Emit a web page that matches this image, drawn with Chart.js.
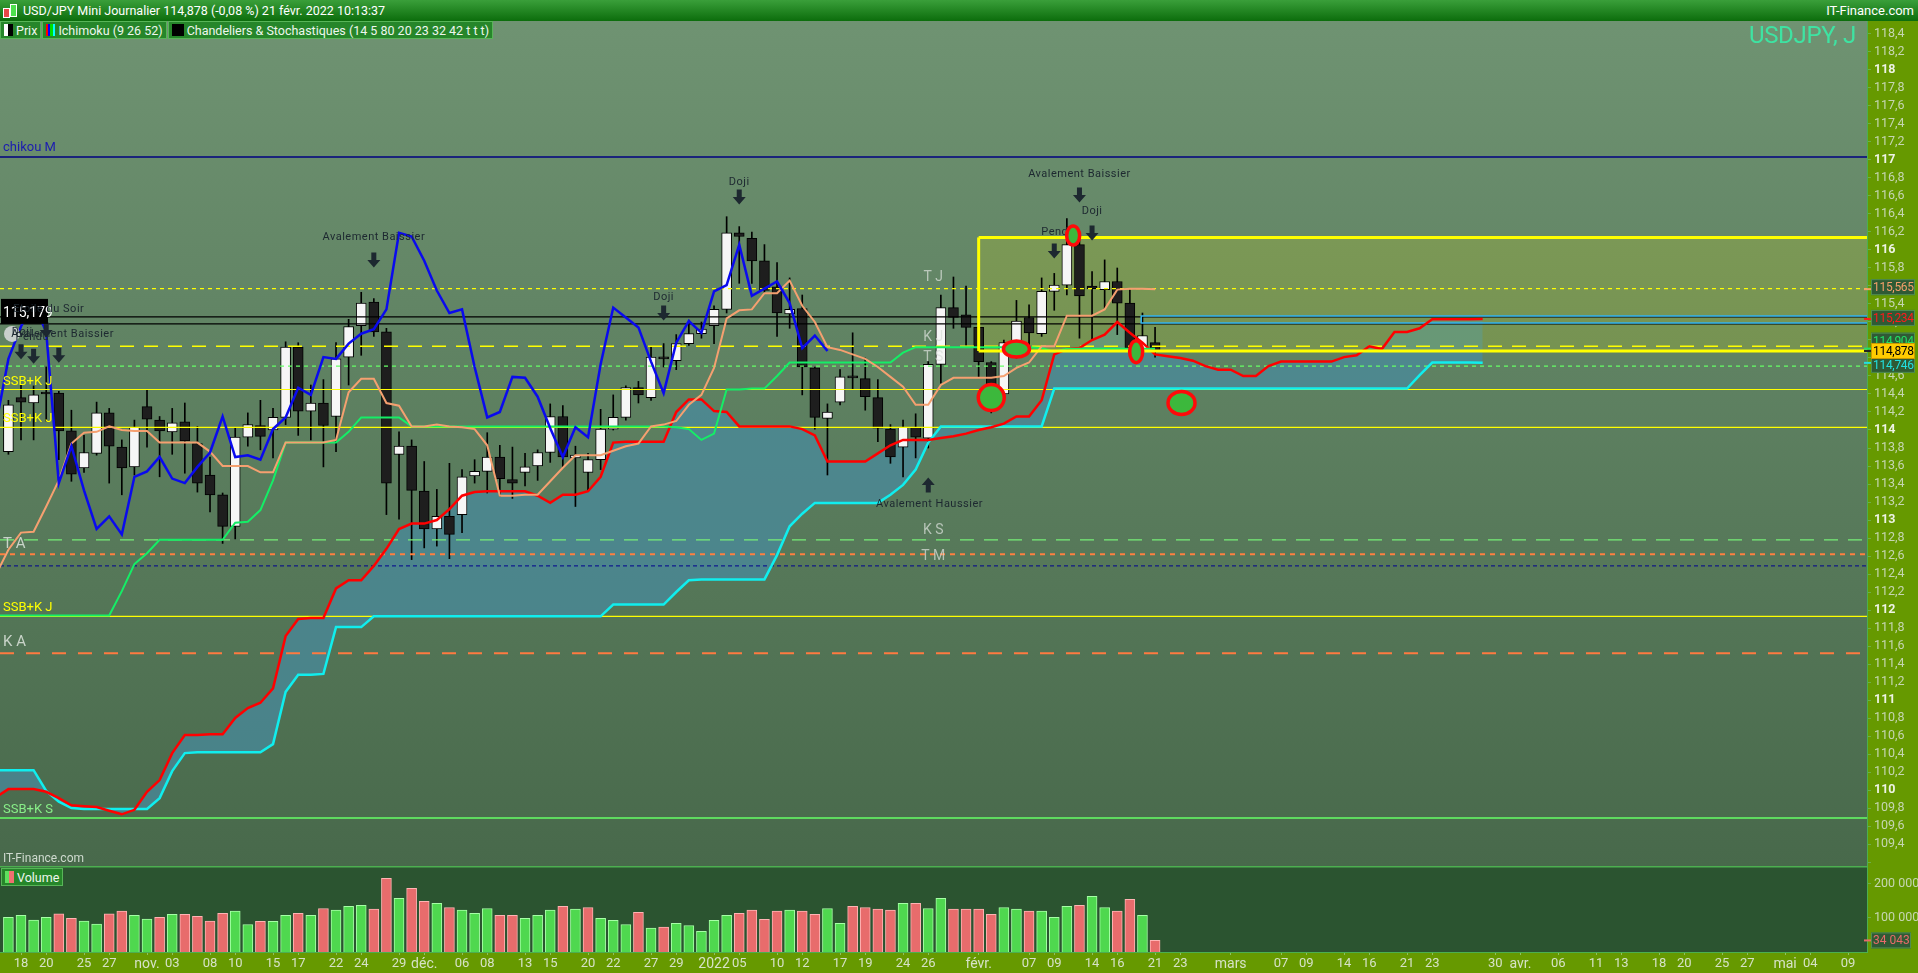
<!DOCTYPE html>
<html lang="fr">
<head>
<meta charset="UTF-8">
<title>USD/JPY Mini Journalier</title>
<script src="https://cdn.jsdelivr.net/npm/chart.js"></script>
<style>
    body {
        margin: 0;
        width: 1918px;
        height: 973px;
        overflow: hidden;
        position: relative;
        background: #669900;
        font-family: Roboto, 'Noto Sans', sans-serif;
    }

    /* title bar */
    .titlebar {
        position: absolute; left: 0; top: 0; width: 1918px; height: 21px;
        background: linear-gradient(#3a9f3a, #0c6d0c);
        color: #fff; font-size: 12.5px; line-height: 21px; z-index: 5;
    }
    .titlebar .txt { position: absolute; left: 23px; top: 0; }
    .titlebar .site { position: absolute; right: 4px; top: 0; font-size: 13px; }
    .ico-r { position: absolute; left: 3px; top: 8px; width: 5px; height: 8px; background: #e84848; border: 1px solid #fff; }
    .ico-g { position: absolute; left: 10px; top: 4px; width: 5px; height: 11px; background: #4ee04e; border: 1px solid #fff; }

    /* legend row */
    .legend { position: absolute; left: 0; top: 21px; height: 18px; display: flex; z-index: 5; }
    .legend span {
        display: flex; align-items: center; gap: 3px;
        background: #26862a; border: 1px solid #58b558; color: #eef6ee;
        font-size: 12.5px; padding: 0 3px; height: 16px; margin-right: 1px;
    }
    .sw { display: inline-block; width: 9px; height: 12px; }

    .usdjpy { position: absolute; right: 62px; top: 21px; font-size: 24px; color: #3ee3a2; z-index: 5; letter-spacing: -0.3px; }
    .watermark { position: absolute; left: 3px; top: 851px; font-size: 12px; color: #cfdacf; z-index: 5; }
    .vlegend {
        position: absolute; left: 1px; top: 868px; height: 16px; z-index: 5;
        display: flex; align-items: center; gap: 3px;
        background: #26862a; border: 1px solid #58b558; color: #eef6ee; font-size: 12.5px; padding: 0 3px;
    }

    #priceBox { position: absolute; left: 0; top: 21px; width: 1918px; height: 845px; }
    #volBox { position: absolute; left: 0; top: 866px; width: 1918px; height: 107px; }
</style>
</head>
<body>

<div class="titlebar">
    <div class="ico-r"></div><div class="ico-g"></div>
    <div class="txt">USD/JPY Mini Journalier 114,878 (-0,08 %) 21 févr. 2022 10:13:37</div>
    <div class="site">IT-Finance.com</div>
</div>
<div class="legend">
    <span><i class="sw" style="background:linear-gradient(90deg,#fff 50%,#000 50%)"></i>Prix</span>
    <span><i class="sw" style="background:linear-gradient(90deg,#f00 0 25%,#00f 25% 50%,#0d0 50% 75%,#0ff 75%)"></i>Ichimoku (9 26 52)</span>
    <span><i class="sw" style="background:#000;width:12px"></i>Chandeliers &amp; Stochastiques (14 5 80 20 23 32 42 t t t)</span>
</div>
<div class="usdjpy">USDJPY, J</div>

<div id="priceBox"><canvas id="price"></canvas></div>
<div id="volBox"><canvas id="vol"></canvas></div>
<div class="watermark">IT-Finance.com</div>
<div class="vlegend"><i class="sw" style="background:linear-gradient(90deg,#5ee05e 50%,#f07070 50%)"></i>Volume</div>

<script>
    // ---- data (day index: 0 = lundi 18 oct. 2021, weekdays only) ----
    const firstDay = -1;   // first candle = 15 oct.

    const opens = [
        113.76, 114.36, 114.30, 114.41, 114.41, 113.99, 113.58, 113.74, 114.19, 113.81,
        113.59, 114.26, 114.11, 113.98, 114.09, 113.85, 113.50, 113.28, 112.93, 113.92,
        114.05, 114.00, 114.14, 114.92, 114.21, 114.30, 114.15, 114.81, 115.16, 115.42,
        115.09, 113.73, 113.82, 113.32, 112.90, 113.04, 113.06, 113.49, 113.54, 113.70,
        113.45, 113.53, 113.60, 113.75, 114.15, 113.69, 113.53, 113.67, 114.01, 114.14,
        114.47, 114.36, 114.80, 114.77, 114.96, 115.07, 115.16, 115.34, 116.19, 116.13,
        115.88, 115.59, 115.29, 115.35, 114.69, 114.13, 114.31, 114.59, 114.57, 114.36,
        114.01, 113.81, 114.03, 113.91, 114.73, 115.36, 115.28, 115.14, 114.75, 114.40,
        114.87, 115.25, 115.07, 115.54, 115.61, 116.06, 115.60, 115.56, 115.65, 115.41,
        114.90, 114.97
    ];
    const highs = [
        114.33, 114.50, 114.49, 114.70, 114.43, 114.22, 113.94, 114.31, 114.24, 113.89,
        114.11, 114.44, 114.15, 114.24, 114.30, 114.04, 113.70, 113.30, 114.03, 114.19,
        114.33, 114.24, 114.98, 114.97, 114.50, 114.56, 114.97, 115.23, 115.53, 115.46,
        115.13, 113.98, 113.89, 113.65, 113.34, 113.63, 113.56, 113.67, 113.97, 113.83,
        113.81, 113.74, 113.78, 114.29, 114.27, 113.82, 113.74, 114.23, 114.39, 114.49,
        114.54, 114.93, 114.96, 115.06, 115.22, 115.20, 115.38, 116.37, 116.26, 116.20,
        116.06, 115.86, 115.69, 115.50, 114.70, 114.29, 114.67, 115.08, 114.80, 114.56,
        114.06, 114.11, 114.18, 114.76, 115.50, 115.70, 115.60, 115.15, 114.76, 115.00,
        115.44, 115.39, 115.69, 115.74, 116.35, 116.11, 115.76, 115.89, 115.80, 115.56,
        115.30, 115.14
    ];
    const lows = [
        113.73, 113.89, 113.89, 114.10, 113.67, 113.43, 113.53, 113.72, 113.41, 113.28,
        113.50, 113.81, 113.48, 113.73, 113.52, 113.31, 113.09, 112.74, 112.79, 113.82,
        113.78, 113.69, 114.06, 113.94, 113.89, 113.59, 113.76, 114.50, 114.83, 115.04,
        113.06, 113.01, 112.56, 112.69, 112.71, 112.57, 112.86, 113.41, 113.30, 113.26,
        113.24, 113.38, 113.44, 113.64, 113.59, 113.15, 113.33, 113.56, 114.00, 114.11,
        114.30, 114.33, 114.70, 114.67, 114.94, 115.02, 114.96, 115.30, 115.63, 115.63,
        115.53, 115.04, 115.13, 114.39, 114.01, 113.50, 114.28, 114.46, 114.22, 113.87,
        113.63, 113.48, 113.69, 113.80, 114.52, 115.13, 114.94, 114.59, 114.19, 114.36,
        114.80, 114.90, 115.04, 115.33, 115.50, 115.02, 115.00, 115.35, 115.06, 114.89,
        114.89, 114.81
    ];
    const closes = [
        114.28, 114.31, 114.39, 114.40, 113.99, 113.51, 113.75, 114.19, 113.82, 113.58,
        114.03, 114.12, 113.99, 114.08, 113.88, 113.41, 113.28, 112.93, 113.92, 114.06,
        113.93, 114.14, 114.92, 114.21, 114.30, 114.05, 114.79, 115.15, 115.41, 115.09,
        113.41, 113.82, 113.33, 112.90, 113.04, 112.84, 113.48, 113.54, 113.70, 113.46,
        113.41, 113.59, 113.75, 114.15, 113.70, 113.72, 113.67, 114.01, 114.14, 114.47,
        114.39, 114.81, 114.79, 114.96, 115.07, 115.12, 115.34, 116.19, 116.15, 115.88,
        115.55, 115.30, 115.34, 114.70, 114.14, 114.20, 114.59, 114.58, 114.37, 114.02,
        113.70, 114.03, 113.92, 114.73, 115.36, 115.25, 115.14, 114.76, 114.41, 114.97,
        115.21, 115.08, 115.54, 115.61, 116.06, 115.49, 115.57, 115.65, 115.41, 114.91,
        115.05, 114.878
    ];
    const volumes = [
        102000, 108000, 94000, 102000, 112000, 99000, 91000, 82000, 112000, 120000,
        108000, 97000, 102000, 111000, 111000, 105000, 91000, 114000, 120000, 81000,
        90000, 90000, 108000, 114000, 108000, 128000, 123000, 134000, 137000, 126000,
        217000, 158000, 187000, 149000, 143000, 131000, 123000, 114000, 128000, 108000,
        108000, 99000, 108000, 123000, 134000, 126000, 131000, 99000, 93000, 81000,
        117000, 70000, 73000, 84000, 78000, 61000, 93000, 108000, 114000, 123000,
        96000, 120000, 123000, 120000, 111000, 128000, 84000, 134000, 131000, 126000,
        123000, 143000, 143000, 128000, 158000, 126000, 126000, 126000, 111000, 131000,
        126000, 120000, 120000, 102000, 134000, 137000, 164000, 131000, 120000, 155000,
        108000, 34043
    ];

    // Ichimoku lines, first value at day -2
    const lineStart = -2;
    const tenkan = [
        112.39, 112.67, 112.86, 112.87, 113.15, 113.44, 113.85, 113.97, 113.98, 114.04,
        114.00, 113.99, 113.99, 113.86, 113.86, 113.86, 113.86, 113.76, 113.60, 113.60,
        113.60, 113.53, 113.53, 113.86, 113.86, 113.86, 113.86, 113.89, 114.42, 114.57,
        114.57, 114.30, 114.27, 114.04, 114.04, 114.06, 114.04, 114.03, 114.01, 113.83,
        113.27, 113.27, 113.28, 113.28, 113.43, 113.58, 113.72, 113.72, 113.72, 113.77,
        113.82, 113.85, 114.04, 114.06, 114.10, 114.28, 114.39, 114.69, 115.24, 115.33,
        115.34, 115.52, 115.52, 115.66, 115.38, 115.20, 114.92, 114.89, 114.84, 114.79,
        114.70, 114.59, 114.48, 114.28, 114.28, 114.50, 114.58, 114.58, 114.58, 114.58,
        114.60, 114.69, 114.75, 114.93, 114.93, 115.27, 115.27, 115.27, 115.34, 115.56,
        115.57, 115.57, 115.565
    ];
    const kijun = [
        111.94, 111.94, 111.94, 111.94, 111.94, 111.94, 111.94, 111.94, 111.94, 111.94,
        112.21, 112.51, 112.63, 112.78, 112.78, 112.78, 112.78, 112.78, 112.78, 112.97,
        112.98, 113.11, 113.44, 113.86, 113.86, 113.86, 113.86, 113.86, 113.98, 114.14,
        114.14, 114.14, 114.14, 114.04, 114.04, 114.04, 114.04, 114.04, 114.04, 114.04,
        114.04, 114.04, 114.04, 114.04, 114.04, 114.04, 114.04, 114.04, 114.04, 114.04,
        114.04, 114.04, 114.04, 114.04, 114.03, 114.01, 113.89, 113.96, 114.45, 114.45,
        114.46, 114.46, 114.60, 114.75, 114.75, 114.75, 114.75, 114.75, 114.75, 114.75,
        114.75, 114.75, 114.86, 114.92, 114.92, 114.92, 114.92, 114.92, 114.92, 114.92,
        114.92, 114.92, 114.92, 114.91, 114.87, 114.904, 114.904, 114.904, 114.904, 114.904,
        114.904, 114.904, 114.904
    ];
    // senkou spans, drawn 26 days ahead, first value at day -2
    const ssa = [
        109.92, 110.01, 110.01, 110.01, 109.98, 109.91, 109.83, 109.82, 109.81, 109.77,
        109.73, 109.78, 109.98, 110.11, 110.41, 110.61, 110.61, 110.62, 110.62, 110.80,
        110.91, 110.97, 111.13, 111.71, 111.90, 111.91, 111.91, 112.24, 112.33, 112.33,
        112.49, 112.68, 112.90, 112.96, 112.96, 113.00, 113.12, 113.27, 113.31, 113.32,
        113.32, 113.32, 113.32, 113.27, 113.19, 113.28, 113.28, 113.32, 113.48, 113.86,
        113.87, 113.87, 113.87, 113.87, 114.20, 114.34, 114.34, 114.21, 114.20, 114.04,
        114.04, 114.04, 114.04, 114.04, 114.01, 113.94, 113.65, 113.65, 113.65, 113.65,
        113.74, 113.83, 113.89, 113.89, 113.89, 113.91, 113.93, 113.96, 114.00, 114.03,
        114.07, 114.15, 114.15, 114.33, 114.84, 114.90, 114.91, 115.00, 115.06, 115.20,
        115.08, 114.97, 114.84, 114.82, 114.80, 114.77, 114.71, 114.67, 114.67, 114.60,
        114.60, 114.71, 114.76, 114.76, 114.76, 114.76, 114.76, 114.81, 114.83, 114.93,
        114.90, 115.09, 115.09, 115.13, 115.23, 115.23, 115.23, 115.23, 115.234
    ];
    const ssb = [
        110.22, 110.22, 110.22, 110.22, 109.99, 109.87, 109.80, 109.79, 109.79, 109.79,
        109.79, 109.79, 109.79, 109.91, 110.21, 110.41, 110.42, 110.42, 110.42, 110.42,
        110.42, 110.42, 110.51, 111.09, 111.28, 111.28, 111.29, 111.81, 111.81, 111.81,
        111.93, 111.93, 111.93, 111.93, 111.93, 111.93, 111.93, 111.93, 111.93, 111.93,
        111.93, 111.93, 111.93, 111.93, 111.93, 111.93, 111.93, 111.93, 111.93, 112.06,
        112.06, 112.06, 112.06, 112.06, 112.20, 112.33, 112.34, 112.34, 112.34, 112.34,
        112.34, 112.34, 112.61, 112.93, 113.07, 113.19, 113.19, 113.19, 113.19, 113.19,
        113.19, 113.28, 113.39, 113.56, 113.86, 114.04, 114.04, 114.04, 114.04, 114.04,
        114.04, 114.04, 114.04, 114.04, 114.46, 114.46, 114.46, 114.46, 114.46, 114.46,
        114.46, 114.46, 114.46, 114.46, 114.46, 114.46, 114.46, 114.46, 114.46, 114.46,
        114.46, 114.46, 114.46, 114.46, 114.46, 114.46, 114.46, 114.46, 114.46, 114.46,
        114.46, 114.46, 114.46, 114.61, 114.75, 114.75, 114.75, 114.75, 114.746
    ];

    // horizontal levels drawn on the chart
    const levels = [117.033, 115.57, 115.256, 115.179, 114.93, 114.71, 114.45, 114.03, 112.78, 112.62, 112.49, 111.93, 111.52, 109.69];
    const levelStyles = [
        { c: '#000080', w: 1.5, d: [] },
        { c: '#ffff00', w: 1.2, d: [4, 4] },
        { c: '#000000', w: 1.2, d: [] },
        { c: '#000000', w: 1.2, d: [] },
        { c: '#ffff00', w: 1.6, d: [14, 10] },
        { c: '#66ff66', w: 1.2, d: [4, 4] },
        { c: '#ffff00', w: 1.2, d: [] },
        { c: '#ffff00', w: 1.2, d: [] },
        { c: '#77ee77', w: 1.2, d: [14, 10] },
        { c: '#ff8040', w: 2, d: [5, 5] },
        { c: '#000090', w: 1, d: [4, 3] },
        { c: '#ffff00', w: 1.2, d: [] },
        { c: '#ff7a40', w: 2, d: [14, 12] },
        { c: '#66ff66', w: 1.5, d: [] }
    ];
    const boxStart = 76, boxTop = 116.14, boxBottom = 114.878;
    const bandStart = 88.9, bandTop = 115.266, bandBottom = 115.19;

    // x axis ticks
    const tickDays = [0, 2, 5, 7, 10, 12, 15, 17, 20, 22, 25, 27, 30, 32, 35, 37, 40, 42, 45, 47, 50, 52, 55, 57, 60, 62, 65, 67, 70, 72,
        76, 80, 82, 85, 87, 90, 92, 96, 100, 102, 105, 107, 110, 112, 117, 119, 122, 125, 127, 130, 132, 135, 137, 140, 142, 145];
    const tickText = ['18', '20', '25', '27', 'nov.', '03', '08', '10', '15', '17', '22', '24', '29', 'déc.', '06', '08', '13', '15', '20', '22', '27', '29', '2022', '05', '10', '12', '17', '19', '24', '26',
        'févr.', '07', '09', '14', '16', '21', '23', 'mars', '07', '09', '14', '16', '21', '23', '30', 'avr.', '06', '11', '13', '18', '20', '25', '27', 'mai', '04', '09'];
    const volTicks = [100000, 200000];

    // pattern annotations
    const patText = ['Avalement Baissier', 'Doji', 'Doji', 'Avalement Baissier', 'Doji', 'Pendu', 'Avalement Haussier', 'Etoile du Soir', 'Doji', 'Pendu', 'Avalement Baissier'];
    const patDay = [28, 51, 57, 84, 85, 82.3, 72.1, 2.2, 0.1, 0.9, 3.3];
    const patPrice = [116.14, 115.48, 116.75, 116.84, 116.43, 116.20, 113.17, 115.34, 115.09, 115.03, 115.06];
    const arrowDay = [28, 51, 57, 84, 85, 82, 72, 0, 1, 2, 3];
    const arrowPrice = [115.89, 115.30, 116.59, 116.61, 116.19, 115.99, 113.39, 114.87, 114.82, 115.11, 114.83];
    const arrowUp = [false, false, false, false, false, false, true, false, false, false, false];
    const ellDay = [77, 79, 83.5, 88.5, 92.1];
    const ellPrice = [114.36, 114.90, 116.16, 114.87, 114.30];
    const ellW = [26, 26, 13, 13, 27];
    const ellH = [26, 16, 19, 22, 23];

    const leftText = ['chikou M', 'SSB+K J', 'SSB+K J', 'T A', 'SSB+K J', 'K A', 'SSB+K S'];
    const leftPrice = [117.033, 114.45, 114.03, 112.78, 111.93, 111.52, 109.69];
    const leftShift = [-9, -8, -9, 4, -9, -11, -8];
    const leftColor = ['#1c1cb0', '#ffff00', '#ffff00', '#c9d4c9', '#ffff00', '#c9d4c9', '#88ee88'];
    const midText = ['T J', 'K J', 'T S', 'K S', 'T M'];
    const midDay = 72.4;
    const midPrice = [115.69, 115.03, 114.81, 112.88, 112.59];

    const tagVals = [115.565, 115.234, 114.904, 114.746, 114.878];
    const tagShift = [-2, -1, -8, 2, 0];
    const tagFg = ['#f4a06a', '#ff1a1a', '#22e066', '#22e0e0', '#000000'];
    const tagBg = ['#2f5a35', '#2f5a35', '#2f5a35', '#2f5a35', '#ffcc00'];

    // ---- layout constants ----
    const X_MIN = -1.667, X_MAX = 146.5;
    const Y_MIN = 109.1556, Y_MAX = 118.5444;
    const VOL_MAX = 252941;
    const FONT = 'Roboto, "Noto Sans", sans-serif';
    Chart.defaults.font.family = FONT;

    const fixY = s => { s.width = 51; s.paddingTop = 0; s.paddingBottom = 0; };
    const isInt = v => Math.abs(v - Math.round(v)) < 1e-6;
    const pts = (arr, start) => arr.map((v, i) => ({ x: start + i, y: v }));

    const datasets = [
        { label: 'chikou', data: closes.map((c, i) => ({ x: firstDay + i - 26, y: c })), borderColor: '#0a0aee', borderWidth: 2.5, order: 1 },
        { label: 'tenkan', data: pts(tenkan, lineStart), borderColor: '#f5a070', borderWidth: 2, order: 2 },
        { label: 'kijun', data: pts(kijun, lineStart), borderColor: '#14ee66', borderWidth: 2, order: 3 },
        { label: 'ssa', data: pts(ssa, lineStart), borderColor: '#ff0000', borderWidth: 2.5, order: 4,
          fill: { target: '+1', above: 'rgba(72,138,160,0.72)', below: 'rgba(72,138,160,0.72)' } },
        { label: 'ssb', data: pts(ssb, lineStart), borderColor: '#10eeee', borderWidth: 2.5, order: 5 },
        { label: 'boxTop', data: [{ x: boxStart, y: boxTop }, { x: X_MAX, y: boxTop }], borderColor: '#ffff00', borderWidth: 3, order: 0,
          fill: { target: '+1', above: 'rgba(232,232,0,0.17)', below: 'rgba(232,232,0,0.17)' } },
        { label: 'boxBottom', data: [{ x: boxStart, y: boxBottom }, { x: X_MAX, y: boxBottom }], borderColor: '#ffff00', borderWidth: 3, order: 0 },
        { label: 'boxLeft', data: [{ x: boxStart, y: boxBottom }, { x: boxStart, y: boxTop }], borderColor: '#ffff00', borderWidth: 3, order: 0 },
        { label: 'band', data: [{ x: X_MAX, y: bandTop }, { x: bandStart, y: bandTop }, { x: bandStart, y: bandBottom }, { x: X_MAX, y: bandBottom }],
          borderColor: '#33b4f0', borderWidth: 1.5, order: 6 }
    ];
    levels.forEach((v, k) => {
        datasets.push({ label: 'lvl' + k, data: [{ x: X_MIN, y: v }, { x: X_MAX, y: v }],
            borderColor: levelStyles[k].c, borderWidth: levelStyles[k].w, borderDash: levelStyles[k].d, order: 10 });
    });
    // candles: wicks and bodies as floating bars
    datasets.push({
        type: 'bar', label: 'wicks', order: 21, grouped: false, barThickness: 1,
        data: lows.map((l, i) => ({ x: firstDay + i, y: [l, highs[i]] })),
        backgroundColor: '#000'
    });
    datasets.push({
        type: 'bar', label: 'bodies', order: 20, grouped: false, barThickness: 10, minBarLength: 2,
        data: opens.map((o, i) => ({ x: firstDay + i, y: [o, closes[i]] })),
        backgroundColor: ctx => closes[ctx.dataIndex] >= opens[ctx.dataIndex] ? '#f6f6f6' : '#1e1e1e',
        borderColor: '#000', borderWidth: 1, borderSkipped: false
    });

    const bgPlugin = {
        id: 'bg',
        beforeDraw(chart) {
            const { ctx, chartArea: a } = chart;
            const g = ctx.createLinearGradient(0, a.top, 0, a.bottom);
            g.addColorStop(0, '#6f9372');
            g.addColorStop(1, '#48694b');
            ctx.save();
            ctx.fillStyle = g;
            ctx.fillRect(a.left, a.top, a.width, a.height);
            ctx.restore();
        }
    };

    const notesPlugin = {
        id: 'notes',
        afterDatasetsDraw(chart) {
            const { ctx, chartArea: a, scales: { x, y } } = chart;
            ctx.save();
            ctx.beginPath();
            ctx.rect(a.left, a.top, a.width, a.height);
            ctx.clip();

            // pattern arrows
            ctx.fillStyle = '#1d2830';
            arrowDay.forEach((d, k) => {
                const cx = x.getPixelForValue(d), cy = y.getPixelForValue(arrowPrice[k]);
                const s = arrowUp[k] ? -1 : 1;
                ctx.beginPath();
                ctx.moveTo(cx - 2.5, cy - s * 7.5);
                ctx.lineTo(cx + 2.5, cy - s * 7.5);
                ctx.lineTo(cx + 2.5, cy);
                ctx.lineTo(cx + 6.5, cy);
                ctx.lineTo(cx, cy + s * 7.5);
                ctx.lineTo(cx - 6.5, cy);
                ctx.lineTo(cx - 2.5, cy);
                ctx.closePath();
                ctx.fill();
            });

            // grey marker + price tag at the left
            const yTag = y.getPixelForValue(115.179);
            ctx.beginPath();
            ctx.arc(a.left + 12, yTag + 10, 8, 0, Math.PI * 2);
            ctx.fillStyle = '#c9cfcc';
            ctx.fill();
            ctx.fillStyle = '#000';
            ctx.fillRect(a.left + 1, yTag - 25, 47, 25);
            ctx.fillStyle = '#fff';
            ctx.font = '14px ' + FONT;
            ctx.textAlign = 'left';
            ctx.textBaseline = 'middle';
            ctx.fillText('115,179', a.left + 3, yTag - 10);

            // pattern names
            ctx.font = '11px ' + FONT;
            ctx.letterSpacing = '0.5px';
            ctx.fillStyle = '#1d2830';
            ctx.textAlign = 'center';
            patText.forEach((t, k) => {
                ctx.fillText(t, x.getPixelForValue(patDay[k]), y.getPixelForValue(patPrice[k]));
            });
            ctx.letterSpacing = '0px';

            // ellipses
            ellDay.forEach((d, k) => {
                ctx.beginPath();
                ctx.ellipse(x.getPixelForValue(d), y.getPixelForValue(ellPrice[k]), ellW[k] / 2, ellH[k] / 2, 0, 0, Math.PI * 2);
                ctx.fillStyle = '#3cb83c';
                ctx.fill();
                ctx.lineWidth = 3.5;
                ctx.strokeStyle = '#ff0a0a';
                ctx.stroke();
            });

            // level names on the left
            ctx.textAlign = 'left';
            leftText.forEach((t, k) => {
                ctx.font = (t.length < 4 ? '15px ' : '13px ') + FONT;
                ctx.fillStyle = leftColor[k];
                ctx.fillText(t, a.left + 3, y.getPixelForValue(leftPrice[k]) + leftShift[k]);
            });
            ctx.font = '14px ' + FONT;
            ctx.fillStyle = 'rgba(215,222,215,0.75)';
            ctx.textAlign = 'center';
            midText.forEach((t, k) => {
                ctx.fillText(t, x.getPixelForValue(midDay), y.getPixelForValue(midPrice[k]));
            });
            ctx.restore();
        },
        afterDraw(chart) {
            const { ctx, chartArea: a, scales: { y } } = chart;
            ctx.save();
            ctx.font = '12px ' + FONT;
            ctx.letterSpacing = '-0.3px';
            ctx.textAlign = 'left';
            ctx.textBaseline = 'middle';
            tagVals.forEach((v, k) => {
                const py = y.getPixelForValue(v);
                const cy = py + tagShift[k];
                ctx.fillStyle = k === 4 ? '#222' : tagFg[k];
                ctx.fillRect(a.right - 3, py - 1, 7, 2);
                ctx.fillStyle = tagBg[k];
                ctx.fillRect(a.right + 4, cy - 8, 44, 16);
                ctx.strokeStyle = k === 4 ? '#c99a00' : '#4f8f50';
                ctx.lineWidth = 1;
                ctx.strokeRect(a.right + 4.5, cy - 7.5, 43, 15);
                ctx.fillStyle = tagFg[k];
                ctx.fillText(v.toFixed(3).replace('.', ','), a.right + 6, cy + 1);
            });
            ctx.restore();
        }
    };

    new Chart(document.getElementById('price'), {
        type: 'line',
        data: { datasets },
        options: {
            responsive: true,
            maintainAspectRatio: false,
            animation: false,
            layout: { padding: 0 },
            elements: { point: { radius: 0 }, line: { tension: 0 } },
            plugins: { legend: { display: false }, tooltip: { enabled: false }, filler: { drawTime: 'beforeDatasetsDraw' } },
            scales: {
                x: { type: 'linear', min: X_MIN, max: X_MAX, display: false, offset: false, grid: { offset: false } },
                y: {
                    position: 'right', min: Y_MIN, max: Y_MAX, afterFit: fixY,
                    border: { color: '#4caf50' },
                    grid: { drawOnChartArea: false, tickLength: 4, color: '#6fae4a' },
                    ticks: {
                        stepSize: 0.2, autoSkip: false, includeBounds: false, padding: 3,
                        color: c => (c.tick && isInt(c.tick.value)) ? '#eef3e4' : '#c6d6b2',
                        font: c => ({ size: 12.5, weight: (c.tick && isInt(c.tick.value)) ? 'bold' : 'normal' }),
                        callback: v => v < 109.3 ? '' : (isInt(v) ? String(Math.round(v)) : v.toFixed(1).replace('.', ','))
                    }
                }
            }
        },
        plugins: [bgPlugin, notesPlugin]
    });

    // ---- volume panel ----
    const volBg = {
        id: 'volbg',
        beforeDraw(chart) {
            const { ctx, chartArea: a } = chart;
            ctx.save();
            ctx.fillStyle = '#2b5430';
            ctx.fillRect(a.left, a.top, a.width, a.height);
            ctx.fillStyle = '#4caf50';
            ctx.fillRect(a.left, a.top, a.width, 1.5);
            ctx.restore();
        },
        afterDraw(chart) {
            const { ctx, chartArea: a, scales: { y } } = chart;
            const last = volumes[volumes.length - 1];
            const py = y.getPixelForValue(last);
            ctx.save();
            ctx.fillStyle = '#e86a6a';
            ctx.fillRect(a.right - 3, py - 1, 7, 2);
            ctx.fillStyle = '#2f5a35';
            ctx.fillRect(a.right + 4, py - 8, 40, 16);
            ctx.strokeStyle = '#4f8f50';
            ctx.strokeRect(a.right + 4.5, py - 7.5, 39, 15);
            ctx.fillStyle = '#e86a6a';
            ctx.font = '12px ' + FONT;
            ctx.textBaseline = 'middle';
            ctx.fillText('34 043', a.right + 6, py + 1);
            ctx.restore();
        }
    };

    new Chart(document.getElementById('vol'), {
        type: 'bar',
        data: {
            datasets: [{
                data: volumes.map((v, i) => ({ x: firstDay + i, y: v })),
                barThickness: 10,
                backgroundColor: c => (c.dataIndex === 0 || closes[c.dataIndex] >= closes[c.dataIndex - 1]) ? '#4fd84f' : '#e86c6c',
                borderColor: c => (c.dataIndex === 0 || closes[c.dataIndex] >= closes[c.dataIndex - 1]) ? '#a6ffa6' : '#ffb4b4',
                borderWidth: 1,
                borderSkipped: 'bottom'
            }]
        },
        options: {
            responsive: true,
            maintainAspectRatio: false,
            animation: false,
            layout: { padding: 0 },
            plugins: { legend: { display: false }, tooltip: { enabled: false } },
            scales: {
                x: {
                    type: 'linear', min: X_MIN, max: X_MAX, offset: false,
                    afterFit: s => { s.height = 21; s.paddingLeft = 0; s.paddingRight = 0; },
                    afterBuildTicks: s => { s.ticks = tickDays.map(v => ({ value: v })); },
                    border: { color: '#4caf50' },
                    grid: { drawOnChartArea: false, offset: false, tickLength: 3, color: '#8fc060' },
                    ticks: {
                        autoSkip: false, maxRotation: 0, padding: 1,
                        color: '#d6e2c6',
                        font: c => ({ size: /[a-z]|2022/.test(tickText[c.index] || '') ? 14 : 13 }),
                        callback: (v, i) => tickText[i]
                    }
                },
                y: {
                    position: 'right', min: 0, max: VOL_MAX, afterFit: fixY,
                    afterBuildTicks: s => { s.ticks = volTicks.map(v => ({ value: v })); },
                    border: { color: '#4caf50' },
                    grid: { drawOnChartArea: false, tickLength: 4, color: '#6fae4a' },
                    ticks: {
                        padding: 3, color: '#c6d6b2', font: { size: 12.5 },
                        callback: v => String(v).replace(/\B(?=(\d{3})+(?!\d))/g, ' ')
                    }
                }
            }
        },
        plugins: [volBg]
    });
</script>
</body>
</html>
